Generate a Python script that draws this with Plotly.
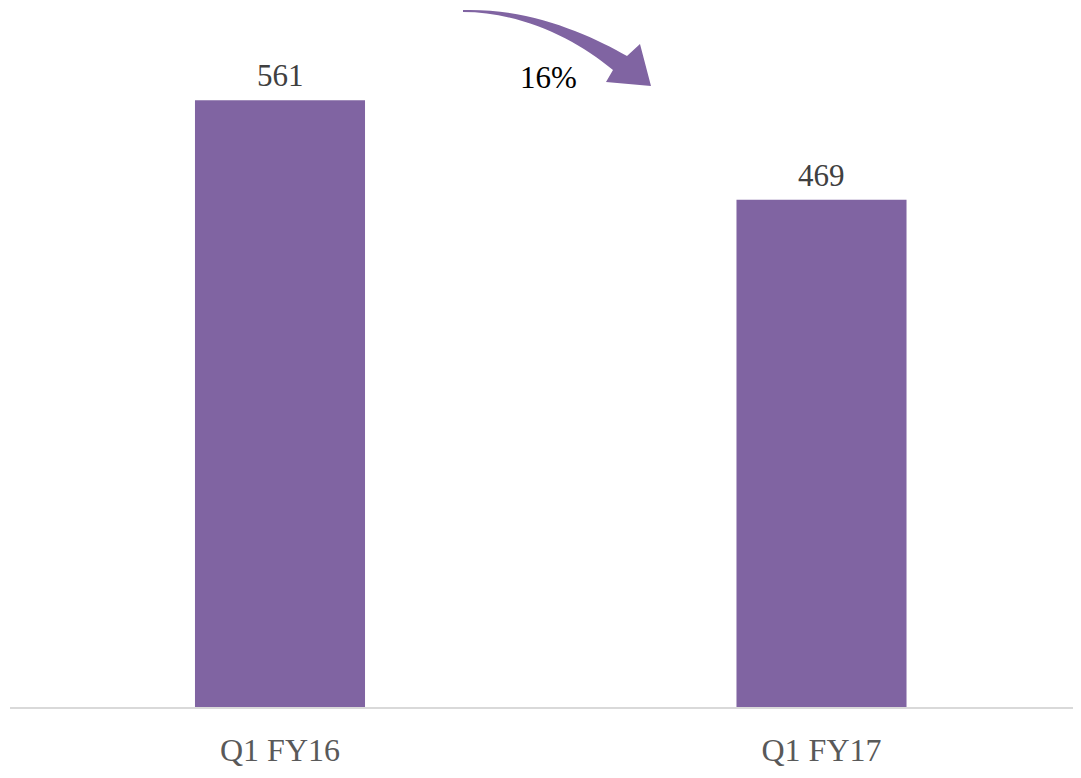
import plotly.graph_objects as go

categories = ["Q1 FY16", "Q1 FY17"]
values = [561, 469]
change_label = "16%"

W, H = 1081, 778
OFF = 8  # page offset of the figure inside the browser window
ML, MR, MT, MB = 2, 0, 0, 79
PW, PH = W - ML - MR, H - MT - MB

BAR_COLOR = "#8064A2"
FONT = "Liberation Serif"


def px(x, y):
    """page pixel position -> paper coordinates"""
    xf, yf = x - OFF, y - OFF
    return (xf - ML) / PW, (H - MB - yf) / PH


def arrow_path():
    pts = [
        ("M", [(463, 10)]),
        ("C", [(530, 8), (590, 35), (627, 56)]),
        ("L", [(640, 44)]),
        ("L", [(651, 86)]),
        ("L", [(606, 82)]),
        ("L", [(613, 70)]),
        ("C", [(575, 38), (520, 12), (463, 12)]),
    ]
    out = []
    for cmd, ps in pts:
        coords = " ".join("%.5f,%.5f" % px(*p) for p in ps)
        out.append(f"{cmd}{coords}")
    return " ".join(out) + " Z"


fig = go.Figure()
fig.add_trace(
    go.Bar(
        x=categories,
        y=values,
        marker=dict(color=BAR_COLOR, line=dict(width=0)),
        width=0.314,
        hoverinfo="x+y",
    )
)

for c, v in zip(categories, values):
    fig.add_annotation(
        x=c, y=v, xref="x", yref="y",
        text=str(v), showarrow=False,
        font=dict(family=FONT, size=31, color="#404040"),
        xanchor="center", yanchor="bottom", yshift=5,
    )

fig.add_shape(
    type="path",
    xref="paper",
    yref="paper",
    path=arrow_path(),
    fillcolor=BAR_COLOR,
    line=dict(width=0),
    layer="above",
)

ax, ay = px(548, 77)
fig.add_annotation(
    x=ax, y=ay, xref="paper", yref="paper",
    text=change_label, showarrow=False,
    font=dict(family=FONT, size=31, color="#000000"),
    xanchor="center", yanchor="middle",
)

# x range chosen so the category centres sit where the reference puts them
unit = 541.5
c0 = 280 - OFF - ML
fig.update_layout(
    width=W,
    height=H,
    margin=dict(l=ML, r=MR, t=MT, b=MB, pad=0),
    paper_bgcolor="white",
    plot_bgcolor="white",
    showlegend=False,
    xaxis=dict(
        type="category",
        range=[-c0 / unit, (PW - c0) / unit],
        showline=True,
        linecolor="#D9D9D9",
        linewidth=2,
        ticks="",
        showgrid=False,
        zeroline=False,
        tickfont=dict(family=FONT, size=32, color="#595959"),
        ticklabelstandoff=14,
    ),
    yaxis=dict(
        range=[0, PH / 1.0815],
        visible=False,
        showgrid=False,
        zeroline=False,
    ),
)

fig.write_html("out.html")
